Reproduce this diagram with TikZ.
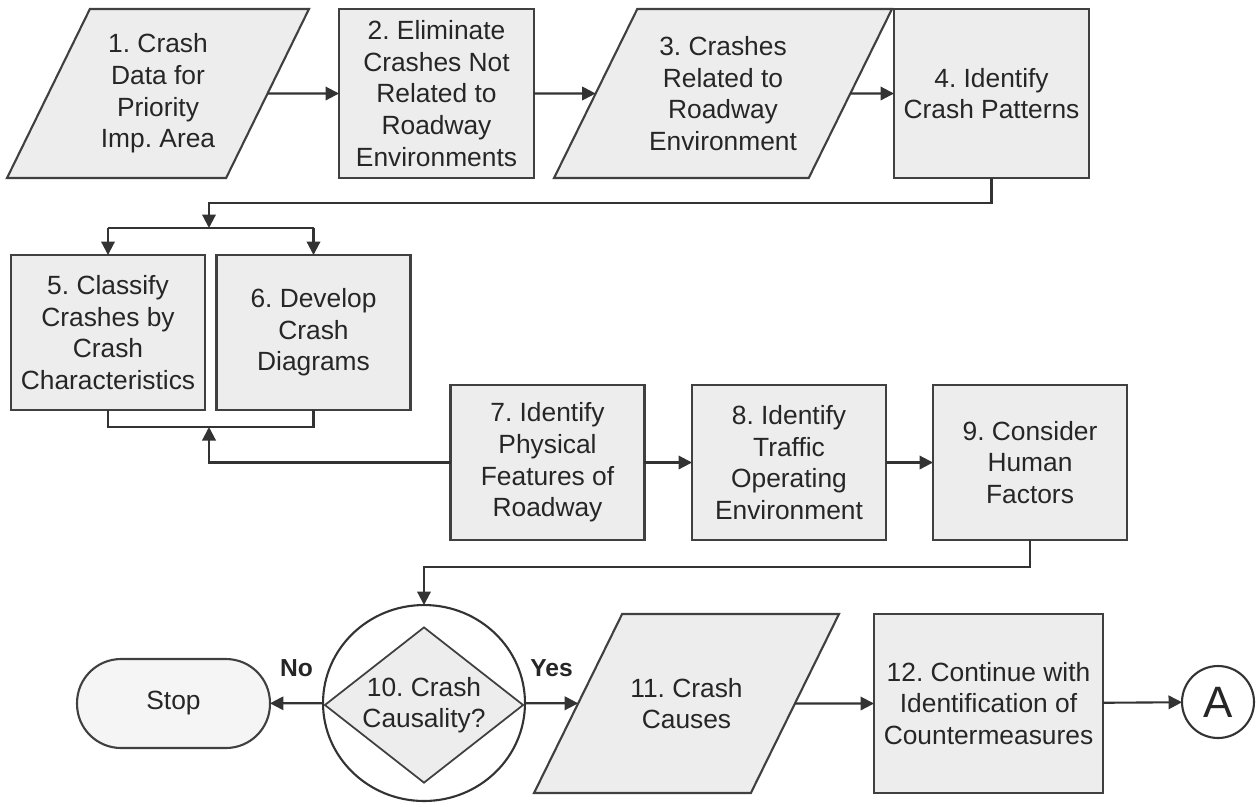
\documentclass[tikz,border=0pt]{standalone}
\usepackage{fontspec}
\setmainfont{Liberation Sans}
\usetikzlibrary{arrows.meta,positioning,shapes.geometric}
\frenchspacing

\begin{document}
\begin{tikzpicture}[
x=0.02cm,
y=-0.02cm,
every node/.style={font=\fontsize{15}{18}\selectfont,text=black!85},
proc/.style={rectangle,draw=black!75,fill=black!7,line width=1.2pt,align=center,inner sep=0pt,outer sep=0pt,minimum width=3.88cm,minimum height=3.1cm},
io/.style={trapezium,trapezium left angle=63.4,trapezium right angle=116.6,trapezium stretches body,draw=black!75,fill=black!7,line width=1.2pt,align=center,inner xsep=0pt,outer sep=0pt,minimum height=3.38cm},
decision/.style={ellipse,draw=black!80,fill=white,line width=1.2pt,inner sep=0pt,outer sep=0pt,minimum width=4.04cm,minimum height=3.92cm},
gate/.style={diamond,draw=black!75,fill=black!7,line width=1pt,align=center,inner sep=0pt,aspect=1.28,minimum width=3.98cm,minimum height=3.12cm},
term/.style={rectangle,rounded corners=0.88cm,draw=black!75,fill=black!4,line width=1.2pt,inner sep=0pt,outer sep=0pt,minimum width=3.86cm,minimum height=1.78cm},
conn/.style={circle,draw=black!80,fill=white,line width=1.2pt,inner sep=0pt,outer sep=0pt,minimum size=1.44cm,font=\fontsize{25}{28}\selectfont},
arr/.style={-{Triangle[length=2.7mm,width=2.7mm]},line width=1.2pt,draw=black!80},
wire/.style={line width=1.2pt,draw=black!80},
lbl/.style={font=\bfseries\fontsize{14}{16}\selectfont,inner sep=0pt}
]
\useasboundingbox (0,0) rectangle (1260,806);
\node[io,minimum width=6.04cm,inner ysep=0.46cm] (b1) at (158,93.5) {1. Crash\\Data for\\Priority\\Imp. Area};
\node[proc,minimum width=3.9cm,minimum height=3.38cm] (b2) at (436.5,93.5) {2. Eliminate\\Crashes Not\\Related to\\Roadway\\Environments};
\node[io,minimum width=6.76cm,inner ysep=0.52cm] (b3) at (723,93.5) {3. Crashes\\Related to\\Roadway\\Environment};
\node[proc,minimum width=3.9cm,minimum height=3.38cm] (b4) at (991.5,93.5) {4. Identify\\Crash Patterns};
\node[proc] (b5) at (108,332.5) {5. Classify\\Crashes by\\Crash\\Characteristics};
\node[proc] (b6) at (313.5,332.5) {6. Develop\\Crash\\Diagrams};
\node[proc] (b7) at (547.5,462.5) {7. Identify\\Physical\\Features of\\Roadway};
\node[proc] (b8) at (789,462.5) {8. Identify\\Traffic\\Operating\\Environment};
\node[proc] (b9) at (1030,462.5) {9. Consider\\Human\\Factors};
\node[decision] (causal) at (424,703) {};
\node[gate] (causalq) at (424,705) {10. Crash\\Causality?};
\node[term] (stop) at (173.5,703.5) {Stop};
\node[io,minimum width=6.1cm,minimum height=3.58cm,inner ysep=1.25cm] (b11) at (686.5,703.5) {11. Crash\\Causes};
\node[proc,minimum width=4.58cm,minimum height=3.58cm] (b12) at (988.5,703.5) {12. Continue with\\Identification of\\Countermeasures};
\node[conn] (contA) at (1218,702) {A};

\coordinate (turn4) at (209,203);
\coordinate (fork) at (209,228);
\coordinate (join) at (209,427);
\coordinate (turn9) at (424,567);

\draw[arr] (b1) -- (b2);
\draw[arr] (b2) -- (b3);
\draw[arr] (b3) -- (b4);
\draw[arr] (b4.south) |- (turn4) -- (fork);
\draw[wire] (fork -| b5.north) -- (fork -| b6.north);
\draw[arr] (fork -| b5.north) -- (b5.north);
\draw[arr] (fork -| b6.north) -- (b6.north);
\draw[wire] (b5.south) |- (join) -| (b6.south);
\draw[arr] (b7.west) -| (join);
\draw[arr] (b7) -- (b8);
\draw[arr] (b8) -- (b9);
\draw[arr] (b9.south) |- (turn9) -- (causal.north);
\draw[arr] (causal) -- node[lbl,above=0.5cm]{No} (stop);
\draw[arr] (causal) -- node[lbl,above=0.5cm]{Yes} (b11);
\draw[arr] (b11) -- (b12);
\draw[arr] (b12) -- (contA);
\end{tikzpicture}
\end{document}
